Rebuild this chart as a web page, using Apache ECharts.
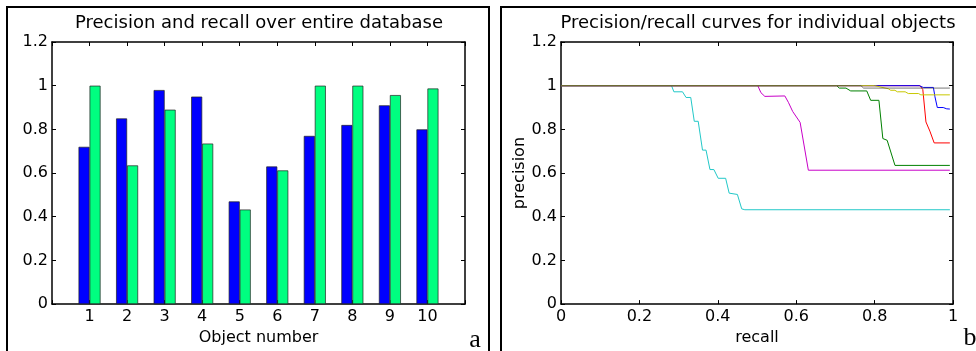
<!DOCTYPE html>
<html>
<head>
<meta charset="utf-8">
<script src="https://cdn.jsdelivr.net/npm/echarts@6/dist/echarts.min.js"></script>
<style>
html,body{margin:0;padding:0;background:#fff;}
#chart{width:976px;height:351px;}
</style>
</head>
<body>
<div id="chart"></div>
<script>
// panel a: per-object precision / recall
var objects = [1, 2, 3, 4, 5, 6, 7, 8, 9, 10];
var precision = [0.72, 0.85, 0.98, 0.95, 0.47, 0.63, 0.77, 0.82, 0.91, 0.80];
var recall = [1.0, 0.635, 0.89, 0.735, 0.433, 0.612, 1.0, 1.0, 0.957, 0.987];

// panel b: precision/recall curves, [recall, precision]
var cyanCurve = [[0,1],[0.282,1],[0.288,0.972],[0.310,0.972],[0.319,0.946],[0.331,0.946],[0.340,0.837],[0.350,0.837],[0.361,0.705],[0.370,0.705],[0.380,0.616],[0.390,0.616],[0.401,0.576],[0.420,0.576],[0.429,0.508],[0.450,0.502],[0.461,0.436],[0.469,0.432],[0.992,0.432]];
var magentaCurve = [[0,1],[0.502,1],[0.510,0.968],[0.520,0.951],[0.571,0.953],[0.580,0.924],[0.591,0.882],[0.610,0.832],[0.631,0.613],[0.992,0.613]];
var greenCurve = [[0,1],[0.703,1],[0.710,0.989],[0.727,0.989],[0.739,0.976],[0.780,0.976],[0.790,0.933],[0.811,0.933],[0.821,0.758],[0.832,0.750],[0.852,0.635],[0.992,0.635]];
var redCurve = [[0,1],[0.916,1],[0.923,0.982],[0.931,0.834],[0.941,0.792],[0.952,0.738],[0.992,0.738]];
var blueCurve = [[0,1],[0.914,1],[0.924,0.992],[0.950,0.992],[0.954,0.949],[0.960,0.900],[0.975,0.900],[0.984,0.894],[0.992,0.893]];
var yellowCurve = [[0,1],[0.80,1],[0.835,0.986],[0.841,0.979],[0.852,0.979],[0.858,0.972],[0.878,0.972],[0.886,0.964],[0.912,0.964],[0.918,0.958],[0.992,0.958]];
var grayCurve = [[0,1],[0.765,1],[0.772,0.989],[0.992,0.989]];

var FONT = 'DejaVu Sans';

function boxAxis(gridIndex, pos, min, max, interval, extra) {
    var a = {
        type: 'value', gridIndex: gridIndex, position: pos,
        min: min, max: max, interval: interval,
        splitLine: {show: false},
        axisLine: {show: true, onZero: false, lineStyle: {color: '#000', width: 1.5}},
        axisTick: {show: true, inside: true, length: 4, lineStyle: {color: '#000'}},
        axisLabel: {show: false}
    };
    for (var k in extra) a[k] = extra[k];
    return a;
}

var chart = echarts.init(document.getElementById('chart'));
chart.setOption({
    animation: false,
    backgroundColor: '#fff',
    grid: [
        {left: 52, top: 42, width: 413, height: 268},
        {left: 561, top: 42, width: 392, height: 268}
    ],
    xAxis: [
        boxAxis(0, 'bottom', 0, 11, 1, {
            name: 'Object number', nameLocation: 'middle', nameGap: 20,
            nameTextStyle: {color: '#000', fontFamily: FONT, fontSize: 16},
            axisLabel: {show: true, margin: 5, color: '#000', fontFamily: FONT, fontSize: 16,
                formatter: function (v) { return (v >= 1 && v <= 10) ? String(v) : ''; }}
        }),
        boxAxis(0, 'top', 0, 11, 1, {}),
        boxAxis(1, 'bottom', 0, 1, 0.2, {
            name: 'recall', nameLocation: 'middle', nameGap: 21,
            nameTextStyle: {color: '#000', fontFamily: FONT, fontSize: 16},
            axisLabel: {show: true, margin: 5, color: '#000', fontFamily: FONT, fontSize: 16}
        }),
        boxAxis(1, 'top', 0, 1, 0.2, {})
    ],
    yAxis: [
        boxAxis(0, 'left', 0, 1.2, 0.2, {
            axisLabel: {show: true, margin: 4, color: '#000', fontFamily: FONT, fontSize: 16}
        }),
        boxAxis(0, 'right', 0, 1.2, 0.2, {}),
        boxAxis(1, 'left', 0, 1.2, 0.2, {
            name: 'precision', nameLocation: 'middle', nameGap: 32,
            nameTextStyle: {color: '#000', fontFamily: FONT, fontSize: 16},
            axisLabel: {show: true, margin: 4, color: '#000', fontFamily: FONT, fontSize: 16}
        }),
        boxAxis(1, 'right', 0, 1.2, 0.2, {})
    ],
    series: [
        {
            name: 'precision', type: 'bar', xAxisIndex: 0, yAxisIndex: 0,
            barWidth: 11, barGap: '0%',
            itemStyle: {color: '#0000ff', borderColor: '#222', borderWidth: 0.7},
            data: objects.map(function (o, i) { return [o, precision[i]]; })
        },
        {
            name: 'recall', type: 'bar', xAxisIndex: 0, yAxisIndex: 0,
            barWidth: 11, barGap: '0%',
            itemStyle: {color: '#00ff80', borderColor: '#222', borderWidth: 0.7},
            data: objects.map(function (o, i) { return [o, recall[i]]; })
        },
        {type: 'line', xAxisIndex: 2, yAxisIndex: 2, symbol: 'none', lineStyle: {color: '#22c8c8', width: 1}, data: cyanCurve},
        {type: 'line', xAxisIndex: 2, yAxisIndex: 2, symbol: 'none', lineStyle: {color: '#c800c8', width: 1}, data: magentaCurve},
        {type: 'line', xAxisIndex: 2, yAxisIndex: 2, symbol: 'none', lineStyle: {color: '#008000', width: 1}, data: greenCurve},
        {type: 'line', xAxisIndex: 2, yAxisIndex: 2, symbol: 'none', lineStyle: {color: '#ff0000', width: 1}, data: redCurve},
        {type: 'line', xAxisIndex: 2, yAxisIndex: 2, symbol: 'none', lineStyle: {color: '#0000ff', width: 1}, data: blueCurve},
        {type: 'line', xAxisIndex: 2, yAxisIndex: 2, symbol: 'none', lineStyle: {color: '#c8c800', width: 1}, data: yellowCurve},
        {type: 'line', xAxisIndex: 2, yAxisIndex: 2, symbol: 'none', lineStyle: {color: '#404040', width: 1, opacity: 0.7}, data: grayCurve}
    ],
    graphic: [
        {type: 'rect', shape: {x: 7, y: 7, width: 482, height: 360}, style: {fill: null, stroke: '#000', lineWidth: 2}},
        {type: 'rect', shape: {x: 501, y: 7, width: 500, height: 360}, style: {fill: null, stroke: '#000', lineWidth: 2}},
        {type: 'text', x: 259, y: 23, style: {text: 'Precision and recall over entire database', fill: '#000',
            font: '18px "DejaVu Sans"', textAlign: 'center', textVerticalAlign: 'middle'}},
        {type: 'text', x: 758, y: 23, style: {text: 'Precision/recall curves for individual objects', fill: '#000',
            font: '18px "DejaVu Sans"', textAlign: 'center', textVerticalAlign: 'middle'}},
        {type: 'text', x: 475, y: 340, style: {text: 'a', fill: '#000',
            font: '26px "Liberation Serif"', textAlign: 'center', textVerticalAlign: 'middle'}},
        {type: 'text', x: 970, y: 338, style: {text: 'b', fill: '#000',
            font: '26px "Liberation Serif"', textAlign: 'center', textVerticalAlign: 'middle'}}
    ]
});
</script>
</body>
</html>
